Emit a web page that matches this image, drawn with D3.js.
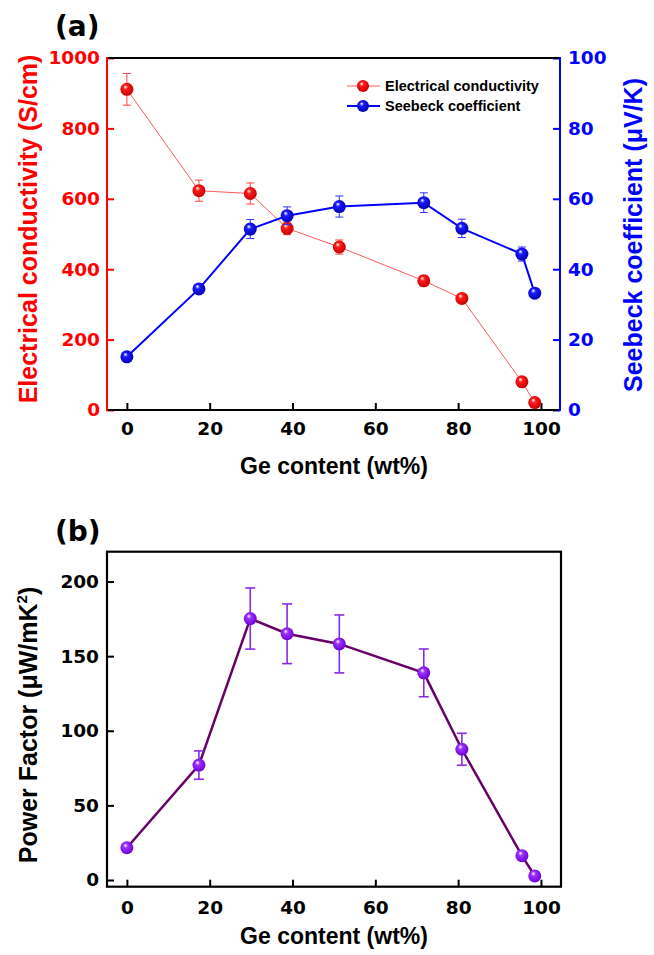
<!DOCTYPE html>
<html>
<head>
<meta charset="UTF-8">
<script src="https://d3js.org/d3.v7.min.js"></script>
<style>
  body { margin: 0; background: #fff; }
  svg text { font-family: Arial, "Liberation Sans", sans-serif; font-weight: bold; }
  .tick text { font-family: "DejaVu Sans", sans-serif; font-weight: bold; font-size: 18.5px; }
</style>
</head>
<body>
<svg width="654" height="955"></svg>
<script>
// data
var geContent = [0, 17.4, 29.8, 38.7, 51.3, 71.7, 80.9, 95.4, 98.5];
var conductivity = [911, 623, 615, 516, 463, 367, 317, 80, 21];
var conductivityErr = [45, 30, 30, 18, 20, 14, 10, 0, 0];
var seebeck = [15.1, 34.4, 51.4, 55.2, 57.8, 58.9, 51.6, 44.3, 33.2];
var seebeckErr = [0, 0, 2.7, 2.5, 3, 2.8, 2.6, 2, 0];
var powerFactor = [21.6, 77, 175.2, 165, 158.2, 138.8, 87.6, 16.3, 2.7];
var powerFactorErr = [0, 9.5, 20.5, 20, 19.4, 16, 10.7, 0, 0];
var xTicks = [0, 20, 40, 60, 80, 100];
var condTicks = [0, 200, 400, 600, 800, 1000];
var seebeckTicks = [0, 20, 40, 60, 80, 100];
var pfTicks = [0, 50, 100, 150, 200];

var svg = d3.select('svg');
var fmt = d3.format('d');

// sphere-looking markers
var defs = svg.append('defs');
function sphere(id, mid, dark) {
  var g = defs.append('radialGradient').attr('id', id)
    .attr('cx', 0.45).attr('cy', 0.45).attr('r', 0.6)
    .attr('fx', 0.38).attr('fy', 0.3);
  g.append('stop').attr('offset', '0%').attr('stop-color', '#fff');
  g.append('stop').attr('offset', '30%').attr('stop-color', mid);
  g.append('stop').attr('offset', '100%').attr('stop-color', dark);
}
sphere('sRed', '#ff1a1a', '#c00000');
sphere('sBlue', '#1a1aff', '#0000a8');
sphere('sPurple', '#9b30ff', '#6a00d0');

var x = d3.scaleLinear().domain([-4.8, 104.6]).range([107, 560]);

function series(g, xs, ys, errs, yScale, lineColor, lineW, errColor, errW, cap, fill) {
  var pts = xs.map(function(d, i) { return {x: d, y: ys[i], e: errs[i]}; });
  g.append('path').datum(pts)
    .attr('fill', 'none').attr('stroke', lineColor).attr('stroke-width', lineW)
    .attr('d', d3.line().x(d => x(d.x)).y(d => yScale(d.y)));
  var eb = g.selectAll(null).data(pts.filter(d => d.e > 0)).enter().append('g')
    .attr('stroke', errColor).attr('stroke-width', errW);
  eb.append('line').attr('x1', d => x(d.x)).attr('x2', d => x(d.x))
    .attr('y1', d => yScale(d.y - d.e)).attr('y2', d => yScale(d.y + d.e));
  eb.append('line').attr('x1', d => x(d.x) - cap).attr('x2', d => x(d.x) + cap)
    .attr('y1', d => yScale(d.y + d.e)).attr('y2', d => yScale(d.y + d.e));
  eb.append('line').attr('x1', d => x(d.x) - cap).attr('x2', d => x(d.x) + cap)
    .attr('y1', d => yScale(d.y - d.e)).attr('y2', d => yScale(d.y - d.e));
  g.selectAll(null).data(pts).enter().append('circle')
    .attr('cx', d => x(d.x)).attr('cy', d => yScale(d.y)).attr('r', 6.5)
    .attr('fill', fill);
}

function styleAxis(g, color) {
  g.select('.domain').remove();
  g.selectAll('.tick line').attr('stroke', color).attr('stroke-width', 2);
  g.selectAll('.tick text').attr('fill', color);
}

// ---------- panel (a) ----------
var yC = d3.scaleLinear().domain([0, 1000]).range([410, 58]);
var yS = d3.scaleLinear().domain([0, 100]).range([410, 58]);

var a = svg.append('g');
a.append('g').attr('transform', 'translate(0,410)')
  .call(d3.axisBottom(x).tickValues(xTicks).tickFormat(fmt).tickSize(-7).tickPadding(12))
  .call(styleAxis, '#000');
a.append('g').attr('transform', 'translate(107,0)')
  .call(d3.axisLeft(yC).tickValues(condTicks).tickFormat(fmt).tickSize(-7).tickPadding(7))
  .call(styleAxis, '#ff0000');
a.append('g').attr('transform', 'translate(560,0)')
  .call(d3.axisRight(yS).tickValues(seebeckTicks).tickFormat(fmt).tickSize(-7).tickPadding(8))
  .call(styleAxis, '#0000ff');

a.append('line').attr('x1', 107).attr('x2', 560).attr('y1', 58).attr('y2', 58)
  .attr('stroke', '#000').attr('stroke-width', 2);
a.append('line').attr('x1', 107).attr('x2', 560).attr('y1', 410).attr('y2', 410)
  .attr('stroke', '#000').attr('stroke-width', 2);
a.append('line').attr('x1', 107).attr('x2', 107).attr('y1', 57).attr('y2', 411)
  .attr('stroke', '#ff0000').attr('stroke-width', 2);
a.append('line').attr('x1', 560).attr('x2', 560).attr('y1', 57).attr('y2', 411)
  .attr('stroke', '#0000ff').attr('stroke-width', 2);

series(a.append('g'), geContent, conductivity, conductivityErr, yC,
  '#ff5a5a', 1, '#ff4040', 1, 4, 'url(#sRed)');
series(a.append('g'), geContent, seebeck, seebeckErr, yS,
  '#0000ff', 2, '#3030ff', 1, 4, 'url(#sBlue)');

// legend
var legend = a.append('g');
var legendItems = [
  {label: 'Electrical conductivity', color: '#ff5a5a', w: 1, fill: 'url(#sRed)'},
  {label: 'Seebeck coefficient', color: '#0000ff', w: 2, fill: 'url(#sBlue)'}
];
legendItems.forEach(function(d, i) {
  var ly = 86 + i * 20;
  legend.append('line').attr('x1', 347).attr('x2', 380).attr('y1', ly).attr('y2', ly)
    .attr('stroke', d.color).attr('stroke-width', d.w);
  legend.append('circle').attr('cx', 363).attr('cy', ly).attr('r', 6).attr('fill', d.fill);
  legend.append('text').attr('x', 385).attr('y', ly + 5).attr('font-size', 14.5)
    .attr('fill', '#000').text(d.label);
});

a.append('text').attr('x', 55).attr('y', 36)
  .style('font-family', '"DejaVu Sans", sans-serif').attr('font-size', 28).text('(a)');
a.append('text').attr('transform', 'translate(37,229) rotate(-90)')
  .attr('text-anchor', 'middle').attr('font-size', 25).attr('fill', '#ff0000')
  .text('Electrical conductivity (S/cm)');
a.append('text').attr('transform', 'translate(642,235) rotate(-90)')
  .attr('text-anchor', 'middle').attr('font-size', 25).attr('fill', '#0000ff')
  .text('Seebeck coefficient (\u03bcV/K)');
a.append('text').attr('x', 334).attr('y', 474).attr('text-anchor', 'middle')
  .attr('font-size', 23).attr('fill', '#000').text('Ge content (wt%)');

// ---------- panel (b) ----------
var yP = d3.scaleLinear().domain([-4.5, 220]).range([886.7, 551.7]);
var b = svg.append('g');
b.append('g').attr('transform', 'translate(0,886.7)')
  .call(d3.axisBottom(x).tickValues(xTicks).tickFormat(fmt).tickSize(-7).tickPadding(14))
  .call(styleAxis, '#000');
b.append('g').attr('transform', 'translate(107,0)')
  .call(d3.axisLeft(yP).tickValues(pfTicks).tickFormat(fmt).tickSize(-7).tickPadding(8))
  .call(styleAxis, '#000');
b.append('rect').attr('x', 107).attr('y', 551.7).attr('width', 454).attr('height', 335)
  .attr('fill', 'none').attr('stroke', '#000').attr('stroke-width', 2.2);

series(b.append('g'), geContent, powerFactor, powerFactorErr, yP,
  '#680068', 2.5, '#8a2be2', 1.6, 5, 'url(#sPurple)');

b.append('text').attr('x', 55).attr('y', 541)
  .style('font-family', '"DejaVu Sans", sans-serif').attr('font-size', 28).text('(b)');
var pt = b.append('text').attr('transform', 'translate(37,725) rotate(-90)')
  .attr('text-anchor', 'middle').attr('font-size', 25).attr('fill', '#000');
pt.append('tspan').text('Power Factor (\u03bcW/mK');
pt.append('tspan').attr('font-size', 15).attr('dy', -10).text('2');
pt.append('tspan').attr('dy', 10).text(')');
b.append('text').attr('x', 334).attr('y', 944).attr('text-anchor', 'middle')
  .attr('font-size', 23).attr('fill', '#000').text('Ge content (wt%)');
</script>
</body>
</html>
